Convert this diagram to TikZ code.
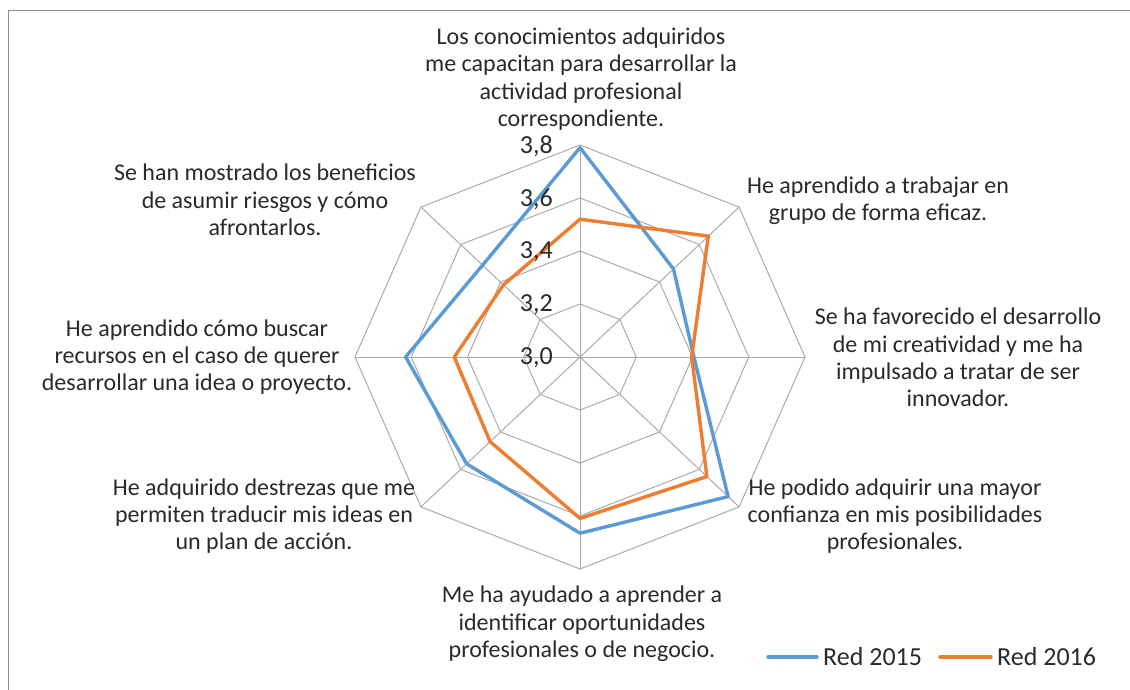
\documentclass[tikz,border=0pt]{standalone}
\usepackage{fontspec}
\setmainfont{Carlito}
\definecolor{sA}{HTML}{5B9BD5}
\definecolor{sB}{HTML}{ED7D31}
\definecolor{gridc}{HTML}{ABABAB}
\definecolor{txt}{HTML}{2A2A2A}
\definecolor{framec}{HTML}{8C8C8C}
\begin{document}
\begin{tikzpicture}[x=1pt,y=-1pt,
  lbl/.style={align=center, font=\fontsize{24}{27.3}\selectfont, text=txt, inner sep=0pt},
  leg/.style={anchor=west, font=\fontsize{26}{27}\selectfont, text=txt, inner sep=0pt},
  tick/.style={anchor=east, font=\fontsize{26}{27}\selectfont, text=txt, inner sep=0pt},
  gridline/.style={draw=gridc, line width=1pt},
  ser/.style={line width=3.4pt, line join=round},
  legline/.style={line width=3.4pt, line cap=round},
]
\useasboundingbox (0,0) rectangle (1130,690);
\fill[white] (0,0) rectangle (1130,690);
\draw[framec, line width=1.5pt] (8.5,690) -- (8.5,10.5) -- (1130,10.5);

\begin{scope}[shift={(580,357)}, x=225pt, y=212pt]
  \foreach \r in {0.25,0.5,0.75,1}
    \draw[gridline] (90:\r) \foreach \a in {45,0,-45,-90,-135,-180,-225} { -- (\a:\r) } -- cycle;
  \foreach \a in {90,45,0,-45,-90,-135,-180,-225}
    \draw[gridline] (0,0) -- (\a:1);
  \draw[ser, sA] (90:.9875) -- (45:.5875) -- (0:.50625) -- (-45:.93125) -- (-90:.83125) -- (-135:.7125) -- (180:.775) -- (135:.6125) -- cycle;
  \draw[ser, sB] (90:.65) -- (45:.80625) -- (0:.49625) -- (-45:.7975) -- (-90:.76125) -- (-135:.565) -- (180:.55875) -- (135:.48125) -- cycle;
  \node[tick] (t0) at (-0.12,-0.005) {3,0};
  \node[tick] (t1) at (-0.12,0.245) {3,2};
  \node[tick] (t2) at (-0.12,0.495) {3,4};
  \node[tick] (t3) at (-0.12,0.745) {3,6};
  \node[tick] (t4) at (-0.12,0.995) {3,8};
\end{scope}

\node[lbl] (l0) at (581,79) {Los conocimientos adquiridos\\me capacitan para desarrollar la\\actividad profesional\\correspondiente.};
\node[lbl] (l1) at (878,200.5) {He aprendido a trabajar en\\grupo de forma eficaz.};
\node[lbl] (l2) at (958,357.5) {Se ha favorecido el desarrollo\\de mi creatividad y me ha\\impulsado a tratar de ser\\innovador.};
\node[lbl] (l3) at (895,516) {He podido adquirir una mayor\\confianza en mis posibilidades\\profesionales.};
\node[lbl] (l4) at (582,624) {Me ha ayudado a aprender a\\identificar oportunidades\\profesionales o de negocio.};
\node[lbl] (l5) at (264,516) {He adquirido destrezas que me\\permiten traducir mis ideas en\\un plan de acción.};
\node[lbl] (l6) at (197,357) {He aprendido cómo buscar\\recursos en el caso de querer\\desarrollar una idea o proyecto.};
\node[lbl] (l7) at (265,200) {Se han mostrado los beneficios\\de asumir riesgos y cómo\\afrontarlos.};

\coordinate (ga) at (768,657);
\coordinate (gb) at (817,657);
\draw[legline, sA] (ga) -- (gb);
\node[leg] (g1) at (823,657) {Red 2015};
\coordinate (gc) at (940,657);
\coordinate (gd) at (991,657);
\draw[legline, sB] (gc) -- (gd);
\node[leg] (g2) at (997,657) {Red 2016};
\end{tikzpicture}
\end{document}
